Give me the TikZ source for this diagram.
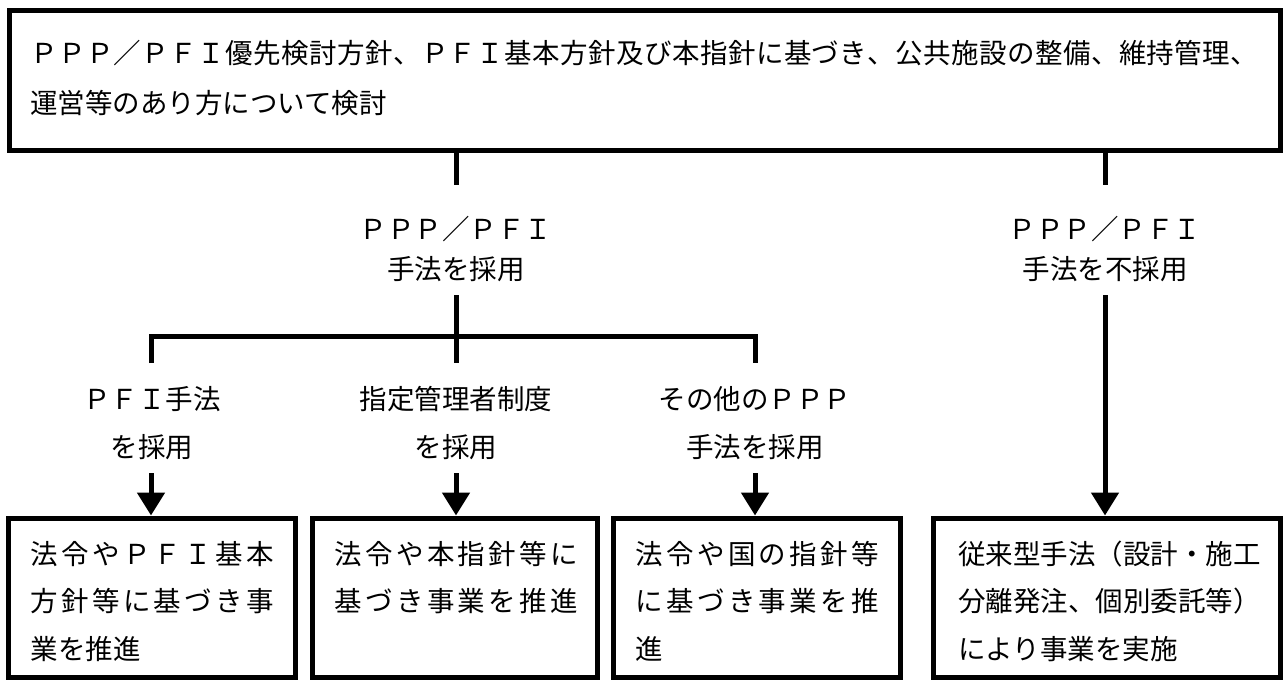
\documentclass[tikz,border=0pt]{standalone}
\usepackage{fontspec}
\setmainfont{Noto Sans CJK JP}
\usetikzlibrary{arrows.meta}
\makeatletter
\newcommand\sprline[2]{\makebox[#1][s]{\@tfor\spr@c:=#2\do{\spr@c\hfil}\unskip}}
\makeatother
\newcommand\jph{\vphantom{国}}
\begin{document}
\begin{tikzpicture}[x=1pt,y=-1pt,
  box/.style={draw,line width=5pt,rectangle,inner sep=0pt,fill=white},
  txt/.style={inner sep=0pt,font=\fontsize{27.5}{33}\selectfont},
  ln/.style={line width=5pt},
  arr/.style={line width=5pt,-{Triangle[length=23pt,width=27pt]}}]
\fill[white] (0,0) rectangle (1285,680);
\useasboundingbox (0,0) rectangle (1285,680);

% top box
\node[box,minimum width=1271pt,minimum height=139.5pt] (top) at (644.5,80.25) {};
\node[txt,anchor=west] (t1) at (30,53) {\jph\sprline{1228pt}{ＰＰＰ／ＰＦＩ優先検討方針、ＰＦＩ基本方針及び本指針に基づき、公共施設の整備、維持管理、}};
\node[txt,anchor=west] (t2) at (30,103) {\jph 運営等のあり方について検討};

% bottom boxes
\node[box,minimum width=287pt,minimum height=159pt] (b1) at (151.5,597.5) {};
\node[box,minimum width=285pt,minimum height=159pt] (b2) at (454.5,597.5) {};
\node[box,minimum width=287pt,minimum height=159pt] (b3) at (756.5,597.5) {};
\node[box,minimum width=347pt,minimum height=159pt] (b4) at (1106.5,597.5) {};

\node[txt,anchor=west] (b1r1) at (30.5,554) {\jph\sprline{243pt}{法令やＰＦＩ基本}};
\node[txt,anchor=west] (b1r2) at (30.5,601.5) {\jph\sprline{243pt}{方針等に基づき事}};
\node[txt,anchor=west] (b1r3) at (30.5,649) {\jph 業を推進};

\node[txt,anchor=west] (b2r1) at (334.5,554) {\jph\sprline{243pt}{法令や本指針等に}};
\node[txt,anchor=west] (b2r2) at (334.5,601.5) {\jph\sprline{243pt}{基づき事業を推進}};

\node[txt,anchor=west] (b3r1) at (635.5,554) {\jph\sprline{243pt}{法令や国の指針等}};
\node[txt,anchor=west] (b3r2) at (635.5,601.5) {\jph\sprline{243pt}{に基づき事業を推}};
\node[txt,anchor=west] (b3r3) at (635.5,649) {\jph 進};

\node[txt,anchor=west] (b4r1) at (958,554) {\jph 従来型手法（設計・施工};
\node[txt,anchor=west] (b4r2) at (958,601.5) {\jph 分離発注、個別委託等）};
\node[txt,anchor=west] (b4r3) at (958,649) {\jph により事業を実施};

% labels
\node[txt] (lA) at (456,229) {\jph ＰＰＰ／ＰＦＩ};
\node[txt] (lA2) at (456,269) {\jph 手法を採用};
\node[txt] (lB) at (1105,229) {\jph ＰＰＰ／ＰＦＩ};
\node[txt] (lB2) at (1105,269) {\jph 手法を不採用};
\node[txt] (l1) at (152,399) {\jph ＰＦＩ手法};
\node[txt] (l1b) at (152,447) {\jph を採用};
\node[txt] (l2) at (456,399) {\jph 指定管理者制度};
\node[txt] (l2b) at (456,447) {\jph を採用};
\node[txt] (l3) at (755,399) {\jph その他のＰＰＰ};
\node[txt] (l3b) at (755,447) {\jph 手法を採用};

% coordinates
\coordinate (j1) at (456,185);
\coordinate (j2) at (1105,185);
\coordinate (j3) at (456,295);
\coordinate (hL) at (151,336);
\coordinate (hR) at (755,336);
\coordinate (dL) at (151,363);
\coordinate (dM) at (456,363);
\coordinate (dR) at (755,363);
\coordinate (a1) at (151,473);
\coordinate (a2) at (456,473);
\coordinate (a3) at (755,473);
\coordinate (a4) at (1105,295);

% connectors
\draw[ln] (j1 |- top.south) -- (j1);
\draw[ln] (j2 |- top.south) -- (j2);
\draw[ln] (j3) -- (dM);
\draw[ln] (dL) -- (hL) -- (hR) -- (dR);
\draw[arr] (a1) -- (a1 |- b1.north);
\draw[arr] (a2) -- (a2 |- b2.north);
\draw[arr] (a3) -- (a3 |- b3.north);
\draw[arr] (a4) -- (a4 |- b4.north);
\end{tikzpicture}
\end{document}
